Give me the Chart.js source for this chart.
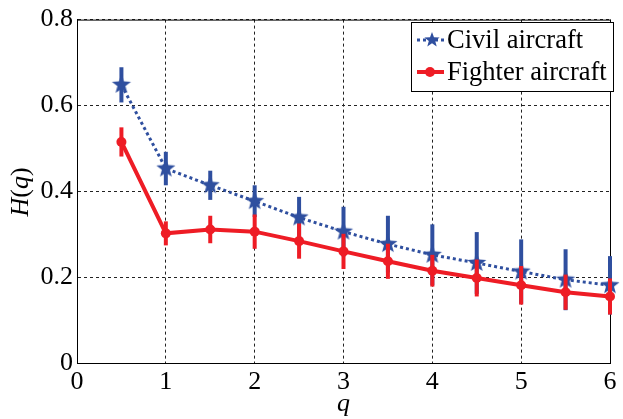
<!DOCTYPE html>
<html>
<head>
<meta charset="UTF-8">
<title>H(q) of civil and fighter aircraft</title>
<script src="https://cdn.jsdelivr.net/npm/chart.js@4"></script>
<style>
  body { margin: 0; background: #fff; font-family: "Liberation Serif", serif; }
  canvas { display: block; }
</style>
</head>
<body>
<canvas id="hq" width="623" height="419"></canvas>
<script>
// generalized Hurst exponent H(q), mean and spread per q
const qValues = [0.5, 1, 1.5, 2, 2.5, 3, 3.5, 4, 4.5, 5, 5.5, 6];
const civilH = [0.648, 0.453, 0.414, 0.377, 0.339, 0.306, 0.277, 0.252, 0.233, 0.213, 0.194, 0.181];
const civilErr = [0.041, 0.039, 0.034, 0.037, 0.048, 0.058, 0.066, 0.071, 0.072, 0.075, 0.071, 0.068];
const fighterH = [0.515, 0.302, 0.311, 0.306, 0.284, 0.260, 0.237, 0.215, 0.198, 0.181, 0.165, 0.155];
const fighterErr = [0.034, 0.028, 0.032, 0.040, 0.041, 0.041, 0.041, 0.037, 0.043, 0.045, 0.041, 0.042];
const xTicks = [0, 1, 2, 3, 4, 5, 6];
const yTicks = [0, 0.2, 0.4, 0.6, 0.8];
const seriesNames = ['Civil aircraft', 'Fighter aircraft'];

const BLUE = '#2f4f9f';
const RED = '#ee1c25';
const SERIF = "'Liberation Serif', 'DejaVu Serif', serif";

function starImage(r, color) {
    const c = document.createElement('canvas');
    const s = Math.ceil(r * 2 + 2);
    c.width = s; c.height = s;
    const g = c.getContext('2d');
    g.fillStyle = color;
    g.beginPath();
    for (let i = 0; i < 10; i++) {
        const rad = i % 2 === 0 ? r : r * 0.42;
        const a = -Math.PI / 2 + i * Math.PI / 5;
        const px = s / 2 + rad * Math.cos(a), py = s / 2 + rad * Math.sin(a);
        if (i === 0) g.moveTo(px, py); else g.lineTo(px, py);
    }
    g.closePath();
    g.fill();
    return c;
}
const bigStar = starImage(10, BLUE);
const smallStar = starImage(8, BLUE);

const toPoints = (ys) => qValues.map((q, i) => ({ x: q, y: ys[i] }));

// vertical error bars, drawn under each series
const errorBars = {
    id: 'errorBars',
    beforeDatasetDraw(chart, args) {
        const ds = chart.data.datasets[args.index];
        if (!ds.errors) return;
        const { ctx, scales: { x, y } } = chart;
        ctx.save();
        ctx.strokeStyle = ds.borderColor;
        ctx.lineWidth = 4;
        ds.data.forEach((p, i) => {
            const px = x.getPixelForValue(p.x);
            ctx.beginPath();
            ctx.moveTo(px, y.getPixelForValue(p.y + ds.errors[i]));
            ctx.lineTo(px, y.getPixelForValue(p.y - ds.errors[i]));
            ctx.stroke();
        });
        ctx.restore();
    }
};

// solid frame, axis titles and boxed legend
const decorations = {
    id: 'decorations',
    beforeDatasetsDraw(chart) {
        const { ctx, chartArea: a } = chart;
        ctx.save();
        ctx.strokeStyle = '#000';
        ctx.lineWidth = 1;
        ctx.strokeRect(a.left + 0.5, a.top + 0.5, a.right - a.left, a.bottom - a.top);
        ctx.restore();
    },
    afterDraw(chart) {
        const { ctx, chartArea: a } = chart;
        ctx.save();
        ctx.fillStyle = '#000';
        ctx.textBaseline = 'alphabetic';

        // x title
        ctx.font = 'italic 26px ' + SERIF;
        ctx.textAlign = 'center';
        ctx.fillText('q', (a.left + a.right) / 2, 411);

        // y title H(q), rotated
        ctx.translate(28, 192);
        ctx.rotate(-Math.PI / 2);
        const parts = [['H', 'italic'], ['(', 'normal'], ['q', 'italic'], [')', 'normal']];
        let w = 0;
        parts.forEach(([t, st]) => { ctx.font = st + ' 26px ' + SERIF; w += ctx.measureText(t).width; });
        let cx = -w / 2;
        ctx.textAlign = 'left';
        parts.forEach(([t, st]) => {
            ctx.font = st + ' 26px ' + SERIF;
            ctx.fillText(t, cx, 0);
            cx += ctx.measureText(t).width;
        });
        ctx.setTransform(1, 0, 0, 1, 0, 0);

        // legend
        const lx = 411, ly = 22, lw = 202, lh = 69;
        ctx.fillStyle = '#fff';
        ctx.fillRect(lx, ly, lw, lh);
        ctx.strokeStyle = '#000';
        ctx.lineWidth = 1;
        ctx.strokeRect(lx + 0.5, ly + 0.5, lw, lh);

        const rows = [40, 72];
        // civil sample
        ctx.strokeStyle = BLUE;
        ctx.lineWidth = 3;
        ctx.setLineDash([3, 3]);
        ctx.beginPath();
        ctx.moveTo(417, rows[0]); ctx.lineTo(444, rows[0]);
        ctx.stroke();
        ctx.setLineDash([]);
        ctx.drawImage(smallStar, 432 - smallStar.width / 2, rows[0] - smallStar.height / 2);
        // fighter sample
        ctx.strokeStyle = RED;
        ctx.lineWidth = 4;
        ctx.beginPath();
        ctx.moveTo(417, rows[1]); ctx.lineTo(444, rows[1]);
        ctx.stroke();
        ctx.fillStyle = RED;
        ctx.beginPath();
        ctx.arc(430, rows[1], 5, 0, Math.PI * 2);
        ctx.fill();

        ctx.fillStyle = '#000';
        ctx.font = '26.5px ' + SERIF;
        ctx.textAlign = 'left';
        ctx.textBaseline = 'middle';
        ctx.fillText(seriesNames[0], 447, rows[0] + 1);
        ctx.fillText(seriesNames[1], 447, rows[1] + 1);
        ctx.restore();
    }
};

function drawChart() {
    new Chart(document.getElementById('hq'), {
        type: 'line',
        data: {
            datasets: [
                {
                    label: seriesNames[0],
                    data: toPoints(civilH),
                    errors: civilErr,
                    borderColor: BLUE,
                    backgroundColor: BLUE,
                    borderWidth: 3,
                    borderDash: [3, 3],
                    pointStyle: bigStar,
                    pointRadius: 10,
                    clip: false,
                    order: 1
                },
                {
                    label: seriesNames[1],
                    data: toPoints(fighterH),
                    errors: fighterErr,
                    borderColor: RED,
                    backgroundColor: RED,
                    borderWidth: 4,
                    pointStyle: 'circle',
                    pointRadius: 5,
                    pointBorderWidth: 0,
                    clip: false,
                    order: 0
                }
            ]
        },
        options: {
            responsive: false,
            animation: false,
            devicePixelRatio: 1,
            layout: { padding: { left: 0, top: 17, right: 6, bottom: 0 } },
            plugins: { legend: { display: false }, tooltip: { enabled: false } },
            scales: {
                x: {
                    type: 'linear',
                    min: 0, max: 6,
                    afterFit: (s) => { s.height = 56; },
                    afterBuildTicks: (s) => { s.ticks = xTicks.map(v => ({ value: v })); },
                    ticks: { color: '#000', font: { family: SERIF, size: 26 }, padding: 4, maxRotation: 0 },
                    grid: { color: '#222', lineWidth: 1, drawTicks: false },
                    border: { color: '#000', dash: [3, 3] }
                },
                y: {
                    min: 0, max: 0.8,
                    afterFit: (s) => { s.width = 77; },
                    afterBuildTicks: (s) => { s.ticks = yTicks.map(v => ({ value: v })); },
                    ticks: {
                        color: '#000', font: { family: SERIF, size: 26 }, padding: 4,
                        callback: (v) => v === 0 ? '0' : v.toFixed(1)
                    },
                    grid: { color: '#222', lineWidth: 1, drawTicks: false },
                    border: { color: '#000', dash: [3, 3] }
                }
            }
        },
        plugins: [errorBars, decorations]
    });
}

// make sure the serif face is ready before the canvas text is laid out
Promise.all([
    document.fonts.load("26px 'Liberation Serif'"),
    document.fonts.load("italic 26px 'Liberation Serif'")
]).then(drawChart, drawChart);
</script>
</body>
</html>
